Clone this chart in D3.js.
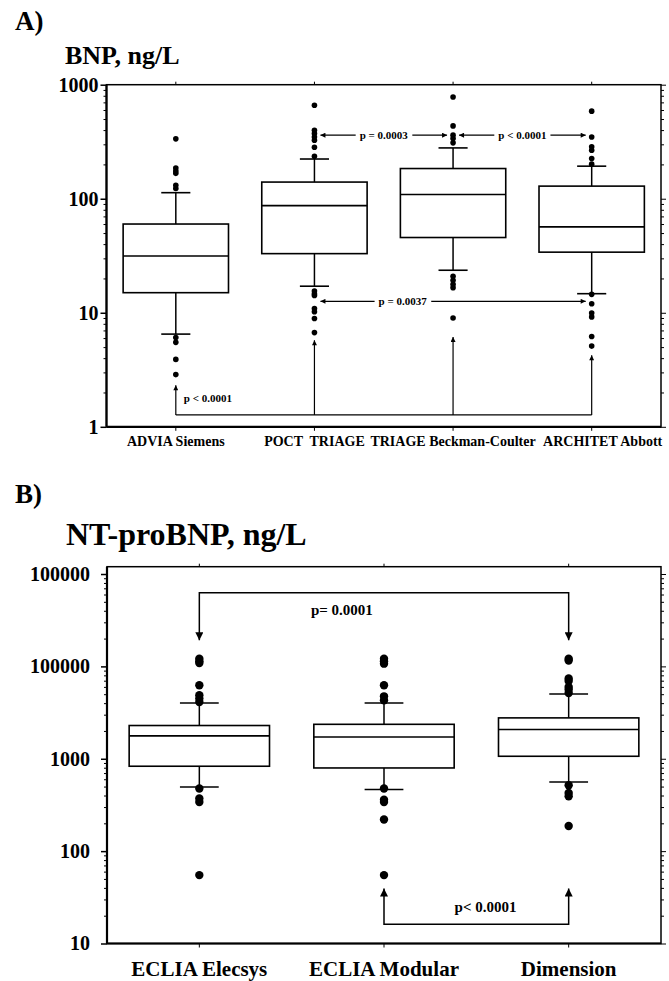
<!DOCTYPE html>
<html>
<head>
    <meta charset="utf-8">
    <title> BNP / NT-proBNP boxplots </title>
    <style>
        body {
            margin: 0;
            background: white;
        }

        svg text {
            font-family: "Liberation Serif", "Times New Roman", "DejaVu Serif", serif !important;
            font-weight: bold;
            fill: black;
        }
    </style>
    <script src="https://d3js.org/d3.v7.min.js"></script>
</head>

<body>
    <script>
        // ---------- panel A : BNP ----------
        const bnpCategories = ["ADVIA Siemens", "POCT  TRIAGE", "TRIAGE Beckman-Coulter", "ARCHITET Abbott"];
        const bnpLowerWhisker = [6.5, 17.1, 23.6, 14.7];
        const bnpQ1 = [15, 33, 45.7, 34];
        const bnpMedian = [31.5, 87, 109, 56.6];
        const bnpQ3 = [60, 140, 184, 129];
        const bnpUpperWhisker = [113, 223, 279, 193];
        const bnpOutliers = [
            [335, 186, 175, 167, 131, 123, 6.06, 5.5, 3.9, 2.87],
            [661, 398, 373, 348, 326, 283, 236, 15.5, 14.7, 14.2, 10.9, 10.2, 8.9, 6.7],
            [781, 435, 361, 337, 309, 20.9, 19.3, 17.8, 16.6, 9.0],
            [586, 348, 285, 266, 225, 201, 14.5, 12.0, 9.96, 9.2, 6.2, 5.1]
        ];
        const bnpTicks = [1, 10, 100, 1000];
        const bnpTickLabels = ["1", "10", "100", "1000"];
        const bnpArrows = [
            { from: 1, to: 2, value: 361, label: "p = 0.0003", at: 0.5 },
            { from: 2, to: 3, value: 361, label: "p < 0.0001", at: 0.5 },
            { from: 1, to: 3, value: 12.6, label: "p = 0.0037", at: 0.31 }
        ];
        const bnpBracketBase = 1.27;
        const bnpBracketTips = [2.31, 5.74, 6.14, 4.24];
        const bnpBracketLabel = { text: "p < 0.0001", value: 1.78 };

        // ---------- panel B : NT-proBNP ----------
        const ntCategories = ["ECLIA Elecsys", "ECLIA Modular", "Dimension"];
        const ntLowerWhisker = [495, 464, 561];
        const ntQ1 = [830, 795, 1064];
        const ntMedian = [1770, 1720, 2070];
        const ntQ3 = [2290, 2360, 2770];
        const ntUpperWhisker = [4020, 4020, 5020];
        const ntOutliers = [
            [12100, 11400, 10900, 6240, 4870, 4480, 4120, 476, 371, 340, 55],
            [12100, 11400, 10700, 6240, 4740, 4300, 476, 361, 340, 220, 55],
            [12100, 11600, 7380, 6950, 5980, 5610, 5150, 517, 426, 393, 187]
        ];
        const ntTicks = [10, 100, 1000, 10000, 100000];
        const ntTickLabels = ["10", "100", "1000", "100000", "100000"];
        const ntBrackets = [
            { from: 0, to: 2, base: 62600, tip: 19150, label: "p= 0.0001", labelValue: 41500, at: 0.386 },
            { from: 1, to: 2, base: 16.2, tip: 39.4, label: "p< 0.0001", labelValue: 24.8, at: 0.55 }
        ];

        const SERIF = '"Liberation Serif", "Times New Roman", "DejaVu Serif", serif';

        const svg = d3.select("body").append("svg")
            .attr("width", 669)
            .attr("height", 981);

        // arrow heads
        const defs = svg.append("defs");
        [["head-small", 7, 5], ["head-big", 11, 8]].forEach(([id, w, h]) => {
            defs.append("marker")
                .attr("id", id)
                .attr("viewBox", "0 0 10 10")
                .attr("refX", 10)
                .attr("refY", 5)
                .attr("markerUnits", "userSpaceOnUse")
                .attr("markerWidth", w)
                .attr("markerHeight", h)
                .attr("orient", "auto-start-reverse")
                .append("path")
                .attr("d", "M0,0 L10,5 L0,10 z")
                .attr("fill", "black");
        });

        function minorTicks(domain) {
            // 2..9 of every decade inside the domain
            let out = [];
            let lo = Math.floor(Math.log10(domain[0]));
            let hi = Math.ceil(Math.log10(domain[1]));
            for (let e = lo; e < hi; e++) {
                for (let m = 2; m <= 9; m++) {
                    let v = m * Math.pow(10, e);
                    if (v > domain[0] && v < domain[1]) out.push(v);
                }
            }
            return out;
        }

        function addText(g, size) {
            return g.append("text")
                .style("font-family", SERIF)
                .style("font-weight", "bold")
                .style("font-size", size + "px");
        }

        function drawPanel(p) {
            const g = svg.append("g");
            const x = d3.scaleBand()
                .domain(d3.range(p.categories.length))
                .range([p.left, p.right])
                .padding(0);
            const y = d3.scaleLog()
                .domain(p.domain)
                .range([p.bottom, p.top]);
            const cx = i => x(i) + x.bandwidth() / 2;
            const boxW = x.bandwidth() * 0.76;
            const capW = x.bandwidth() * 0.21;

            // frame
            g.append("rect")
                .attr("x", p.left).attr("y", p.top)
                .attr("width", p.right - p.left).attr("height", p.bottom - p.top)
                .attr("fill", "none").attr("stroke", "black").attr("stroke-width", 1.5);
            g.append("line")
                .attr("x1", p.left).attr("x2", p.left)
                .attr("y1", p.top).attr("y2", p.bottom)
                .attr("stroke", "black").attr("stroke-width", 2.2);
            g.append("line")
                .attr("x1", p.left).attr("x2", p.right)
                .attr("y1", p.bottom).attr("y2", p.bottom)
                .attr("stroke", "black").attr("stroke-width", 2.2);

            // left axis: minor, then major with labels
            const minors = minorTicks(p.domain);
            g.append("g")
                .attr("transform", `translate(${p.left},0)`)
                .call(d3.axisLeft(y).tickValues(minors).tickSize(3).tickFormat(""))
                .call(a => a.select(".domain").remove());
            const leftAxis = g.append("g")
                .attr("transform", `translate(${p.left},0)`)
                .call(d3.axisLeft(y).tickValues(p.ticks).tickSize(6).tickPadding(p.labelPad)
                    .tickFormat((d, i) => p.tickLabels[i]));
            leftAxis.attr("font-family", null).attr("font-size", null);
            leftAxis.select(".domain").remove();
            leftAxis.selectAll("line").attr("stroke-width", 1.5);
            leftAxis.selectAll("text")
                .style("font-family", SERIF)
                .style("font-size", p.tickFont + "px")
                .style("font-weight", "bold");

            // right axis ticks pointing outward
            g.append("g")
                .attr("transform", `translate(${p.right},0)`)
                .call(d3.axisRight(y).tickValues(minors).tickSize(3).tickFormat(""))
                .call(a => a.select(".domain").remove());
            g.append("g")
                .attr("transform", `translate(${p.right},0)`)
                .call(d3.axisRight(y).tickValues(p.ticks).tickSize(5).tickFormat(""))
                .call(a => a.select(".domain").remove());

            // category ticks on top and bottom
            g.append("g").attr("transform", `translate(0,${p.top})`)
                .call(d3.axisTop(x).tickSize(3).tickFormat(""))
                .call(a => a.select(".domain").remove());
            g.append("g").attr("transform", `translate(0,${p.bottom})`)
                .call(d3.axisBottom(x).tickSize(4).tickFormat(""))
                .call(a => a.select(".domain").remove());

            // category labels
            p.categories.forEach((d, i) => {
                addText(g, p.catFont)
                    .attr("x", cx(i) + (p.catShift ? p.catShift[i] : 0))
                    .attr("y", p.bottom + p.catLabelDy)
                    .attr("text-anchor", "middle")
                    .style("white-space", "pre")
                    .text(d);
            });

            // boxes
            const idx = d3.range(p.categories.length);
            const boxes = g.selectAll(".box").data(idx).enter().append("g").attr("class", "box");
            boxes.append("line")
                .attr("x1", cx).attr("x2", cx)
                .attr("y1", i => y(p.lower[i])).attr("y2", i => y(p.upper[i]))
                .attr("stroke", "black").attr("stroke-width", 1.5);
            boxes.append("rect")
                .attr("x", i => cx(i) - boxW / 2)
                .attr("width", boxW)
                .attr("y", i => y(p.q3[i]))
                .attr("height", i => y(p.q1[i]) - y(p.q3[i]))
                .attr("fill", "white").attr("stroke", "black").attr("stroke-width", 1.6);
            boxes.append("line")
                .attr("x1", i => cx(i) - boxW / 2).attr("x2", i => cx(i) + boxW / 2)
                .attr("y1", i => y(p.median[i])).attr("y2", i => y(p.median[i]))
                .attr("stroke", "black").attr("stroke-width", 1.6);
            ["lower", "upper"].forEach(k => {
                boxes.append("line")
                    .attr("x1", i => cx(i) - capW / 2).attr("x2", i => cx(i) + capW / 2)
                    .attr("y1", i => y(p[k][i])).attr("y2", i => y(p[k][i]))
                    .attr("stroke", "black").attr("stroke-width", 1.6);
            });

            // outliers
            const pts = [];
            p.outliers.forEach((vals, i) => vals.forEach(v => pts.push({ i: i, v: v })));
            g.selectAll(".outlier")
                .data(pts)
                .enter()
                .append("circle")
                .attr("class", "outlier")
                .attr("cx", d => cx(d.i))
                .attr("cy", d => y(d.v))
                .attr("r", p.dotR)
                .attr("fill", "black");

            return { g: g, x: x, y: y, cx: cx };
        }

        // label with a white patch behind it, so it sits on a line
        function patchedLabel(g, xPos, yPos, text, size) {
            const t = addText(g, size)
                .attr("x", xPos)
                .attr("y", yPos)
                .attr("dy", "0.35em")
                .attr("text-anchor", "middle")
                .text(text);
            const bb = t.node().getBBox();
            g.insert("rect", () => t.node())
                .attr("x", bb.x - 4).attr("y", bb.y)
                .attr("width", bb.width + 8).attr("height", bb.height)
                .attr("fill", "white");
        }

        // ---------- draw A ----------
        addText(svg, 27).attr("x", 15).attr("y", 30).text("A)");
        addText(svg, 26).attr("x", 65).attr("y", 64).text("BNP, ng/L");

        const A = drawPanel({
            categories: bnpCategories,
            lower: bnpLowerWhisker, q1: bnpQ1, median: bnpMedian, q3: bnpQ3, upper: bnpUpperWhisker,
            outliers: bnpOutliers,
            ticks: bnpTicks, tickLabels: bnpTickLabels,
            domain: [1, 1000],
            left: 106.5, right: 661, top: 84.7, bottom: 426.8,
            labelPad: 2, tickFont: 20, catFont: 14, catLabelDy: 19, dotR: 2.8,
            catShift: [0, 0, 0, 11]
        });

        bnpArrows.forEach(a => {
            const x1 = A.cx(a.from) + 6;
            const x2 = A.cx(a.to) - 6;
            const yy = A.y(a.value);
            A.g.append("line")
                .attr("x1", x1).attr("x2", x2).attr("y1", yy).attr("y2", yy)
                .attr("stroke", "black").attr("stroke-width", 1.2)
                .attr("marker-start", "url(#head-small)")
                .attr("marker-end", "url(#head-small)");
            patchedLabel(A.g, x1 + (x2 - x1) * a.at, yy, a.label, 11);
        });

        // bottom bracket joining the four methods
        const baseY = A.y(bnpBracketBase);
        A.g.append("line")
            .attr("x1", A.cx(0)).attr("x2", A.cx(bnpCategories.length - 1))
            .attr("y1", baseY).attr("y2", baseY)
            .attr("stroke", "black").attr("stroke-width", 1.2);
        bnpBracketTips.forEach((v, i) => {
            A.g.append("line")
                .attr("x1", A.cx(i)).attr("x2", A.cx(i))
                .attr("y1", baseY).attr("y2", A.y(v))
                .attr("stroke", "black").attr("stroke-width", 1.2)
                .attr("marker-end", "url(#head-small)");
        });
        addText(A.g, 11)
            .attr("x", A.cx(0) + 8)
            .attr("y", A.y(bnpBracketLabel.value))
            .attr("dy", "0.35em")
            .text(bnpBracketLabel.text);

        // ---------- draw B ----------
        addText(svg, 27).attr("x", 15).attr("y", 503).text("B)");
        addText(svg, 32).attr("x", 66).attr("y", 545).text("NT-proBNP, ng/L");

        const B = drawPanel({
            categories: ntCategories,
            lower: ntLowerWhisker, q1: ntQ1, median: ntMedian, q3: ntQ3, upper: ntUpperWhisker,
            outliers: ntOutliers,
            ticks: ntTicks, tickLabels: ntTickLabels,
            domain: [10, 120000],
            left: 107, right: 661, top: 566.7, bottom: 943.5,
            labelPad: 11, tickFont: 20, catFont: 21, catLabelDy: 32, dotR: 4.2
        });

        ntBrackets.forEach(b => {
            const x1 = B.cx(b.from);
            const x2 = B.cx(b.to);
            const yb = B.y(b.base);
            const yt = B.y(b.tip);
            B.g.append("path")
                .attr("d", `M${x1},${yt} L${x1},${yb} L${x2},${yb} L${x2},${yt}`)
                .attr("fill", "none")
                .attr("stroke", "black").attr("stroke-width", 1.5)
                .attr("marker-start", "url(#head-big)")
                .attr("marker-end", "url(#head-big)");
            addText(B.g, 15)
                .attr("x", x1 + (x2 - x1) * b.at)
                .attr("y", B.y(b.labelValue))
                .attr("dy", "0.35em")
                .attr("text-anchor", "middle")
                .text(b.label);
        });
    </script>
</body>
</html>
